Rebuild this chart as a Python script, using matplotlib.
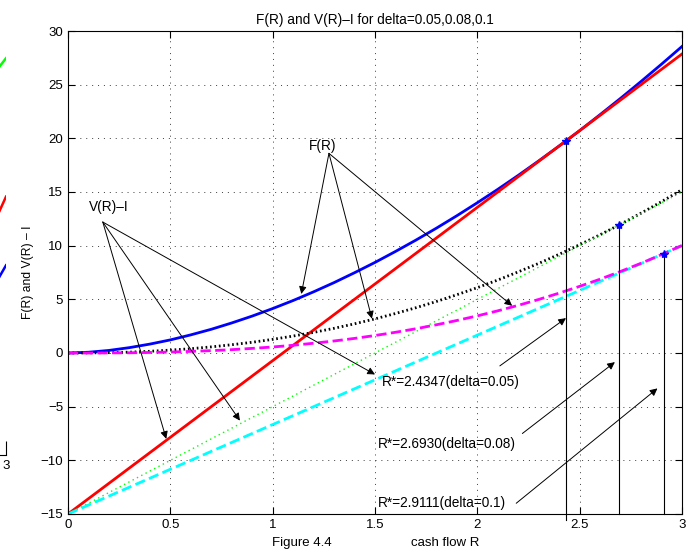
import matplotlib
matplotlib.use("Agg")
import matplotlib.pyplot as plt

plt.rcParams['font.family'] = ['Liberation Sans', 'DejaVu Sans']
plt.rcParams['font.size'] = 9.5

# cash flow grid for the option value curves
r_grid = [0.0, 0.1, 0.2, 0.3, 0.4, 0.5, 0.6, 0.7, 0.8, 0.9, 1.0,
          1.1, 1.2, 1.3, 1.4, 1.5, 1.6, 1.7, 1.8, 1.9, 2.0,
          2.1, 2.2, 2.3, 2.4, 2.5, 2.6, 2.7, 2.8, 2.9, 3.0]
f_005 = [0.0, 0.07, 0.24, 0.50, 0.83, 1.22, 1.69, 2.21, 2.80, 3.44, 4.14,
         4.89, 5.70, 6.56, 7.48, 8.44, 9.46, 10.52, 11.63, 12.79, 14.00,
         15.25, 16.55, 17.90, 19.29, 20.72, 22.21, 23.73, 25.30, 26.91, 28.56]
f_008 = [0.0, 0.01, 0.03, 0.08, 0.16, 0.27, 0.40, 0.57, 0.77, 1.00, 1.27,
         1.58, 1.92, 2.30, 2.72, 3.18, 3.68, 4.22, 4.80, 5.43, 6.09,
         6.80, 7.56, 8.35, 9.20, 10.09, 11.02, 12.00, 13.03, 14.10, 15.22]
f_010 = [0.0, 0.0, 0.01, 0.02, 0.05, 0.09, 0.15, 0.22, 0.31, 0.43, 0.56,
         0.72, 0.91, 1.12, 1.36, 1.63, 1.93, 2.26, 2.63, 3.03, 3.46,
         3.93, 4.44, 4.99, 5.58, 6.21, 6.88, 7.60, 8.36, 9.17, 10.02]

# net project value V(R) - I (straight lines)
r_line = [0.0, 3.0]
v_005 = [-15.0, 27.86]
v_008 = [-15.0, 15.0]
v_010 = [-15.0, 10.0]

# trigger points R* and the value there
r_star = [2.4347, 2.6930, 2.9111]
f_star = [19.78, 11.93, 9.26]
star_labels = ['R*=2.4347(delta=0.05)', 'R*=2.6930(delta=0.08)',
               'R*=2.9111(delta=0.1)']

# fragment of the neighbouring panel on the left
left_r = [2.95, 3.0]
left_green = [35.3, 36.4]
left_red = [21.8, 23.7]
left_blue = [15.9, 17.4]

BLUE, RED, GREEN = '#0000ff', '#ff0000', '#00ff00'
CYAN, MAGENTA = '#00ffff', '#ff00ff'

W, H = 697, 554
fig = plt.figure(figsize=(W / 100, H / 100), dpi=100)

grid_style = dict(color='k', linestyle=(0, (1.5, 7)), linewidth=0.5)

# left neighbour panel, mostly outside the figure
axl = fig.add_axes([-0.8, 1 - 455 / H, 0.8 + 6 / W, (455 - 19) / H])
axl.plot(left_r, left_green, color=GREEN, lw=1.8)
axl.plot(left_r, left_red, color=RED, lw=1.8)
axl.plot(left_r, left_blue, color=BLUE, lw=1.8)
axl.set_xlim(0, 3)
axl.set_ylim(0, 40)
axl.set_xticks([3])
axl.set_xticklabels(['3'])
axl.set_yticks([])
axl.tick_params(direction='in', length=10, width=0.8)
axl.spines['top'].set_visible(False)
axl.spines['right'].set_visible(False)
axl.spines['left'].set_visible(False)
axl.xaxis.grid(True, **grid_style)

# main panel
ax = fig.add_axes([68 / W, 1 - 514 / H, (682 - 68) / W, (514 - 31) / H])
ax.plot(r_grid, f_005, color=BLUE, lw=2)
ax.plot(r_line, v_005, color=RED, lw=2)
ax.plot(r_grid, f_008, color='k', lw=2, linestyle=(0, (0.6, 1.0)))
ax.plot(r_line, v_008, color=GREEN, lw=1, linestyle=(0, (1, 2.5)))
ax.plot(r_line, v_010, color=CYAN, lw=2, linestyle=(0, (3.7, 1.6)))
ax.plot(r_grid, f_010, color=MAGENTA, lw=2, linestyle=(0, (3.7, 1.6)))

# vertical markers at the trigger points
for i, (rs, fs) in enumerate(zip(r_star, f_star)):
    bottom = -15.6 if i == 0 else -15
    ax.plot([rs, rs], [fs, bottom], color='k', lw=0.8, clip_on=False)
    ax.plot(rs, fs, marker='*', color=BLUE, markersize=6, linestyle='none')

arrow = dict(arrowstyle='-|>', color='k', lw=0.7, mutation_scale=11,
             shrinkA=0, shrinkB=0)

# labels for the curves
ax.text(0.20, 13.6, 'V(R)–I', ha='center', va='center', fontsize=9.8)
for tip in [(0.48, -8.0), (0.84, -6.3), (1.50, -2.0)]:
    ax.annotate('', xy=tip, xytext=(0.17, 12.2), arrowprops=arrow)

ax.text(1.245, 19.3, 'F(R)', ha='center', va='center', fontsize=9.8)
for tip in [(1.14, 5.5), (1.485, 3.2), (2.17, 4.4)]:
    ax.annotate('', xy=tip, xytext=(1.275, 18.6), arrowprops=arrow)

# labels for the trigger points
text_pos = [(1.534, -2.7), (1.514, -8.5), (1.514, -14.0)]
arrow_from = [(2.11, -1.2), (2.22, -7.5), (2.19, -14.0)]
arrow_to = [(2.433, 3.25), (2.672, -0.85), (2.88, -3.3)]
for lab, tp, a0, a1 in zip(star_labels, text_pos, arrow_from, arrow_to):
    ax.text(tp[0], tp[1], lab, ha='left', va='center', fontsize=9.8)
    ax.annotate('', xy=a1, xytext=a0, arrowprops=arrow)

ax.set_xlim(0, 3)
ax.set_ylim(-15, 30)
ax.set_xticks([0, 0.5, 1, 1.5, 2, 2.5, 3])
ax.set_xticklabels(['0', '0.5', '1', '1.5', '2', '2.5', '3'])
ax.set_yticks(range(-15, 31, 5))
ax.tick_params(direction='in', length=5, width=0.8, top=True, right=True)
ax.grid(True, **grid_style)
for sp in ax.spines.values():
    sp.set_linewidth(0.8)

ax.set_title('F(R) and V(R)–I for delta=0.05,0.08,0.1', pad=5, fontsize=9.8)
ax.set_ylabel('F(R) and V(R) – I', labelpad=5, fontsize=8.7)
fig.text(302 / W, 1 - 543 / H, 'Figure 4.4', ha='center', va='center')
fig.text(445 / W, 1 - 543 / H, 'cash flow R', ha='center', va='center')

fig.savefig('out.png', dpi=100)
